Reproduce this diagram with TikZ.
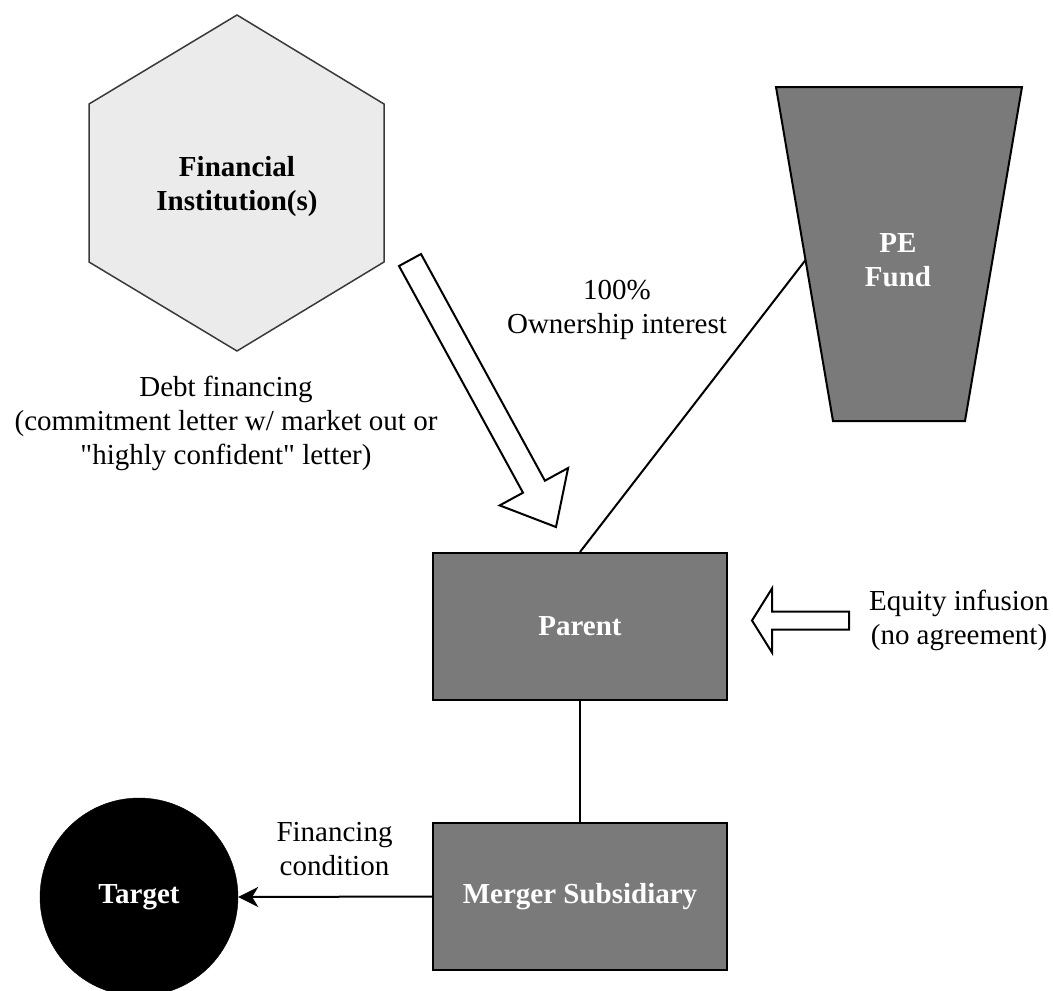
\documentclass[tikz,border=0pt]{standalone}
\usepackage{fontspec}
\setmainfont{Liberation Serif}[Ligatures=TeXOff]
\usetikzlibrary{arrows.meta,calc}
\definecolor{boxgray}{HTML}{7A7A7A}
\definecolor{hexfill}{HTML}{EBEBEB}
\definecolor{hexline}{HTML}{3A3A3A}

\begin{document}
\begin{tikzpicture}[x=1pt,y=-1pt,
  lbl/.style={font=\fontsize{29}{34}\selectfont, align=center, inner sep=0pt},
  boldlbl/.style={font=\fontsize{29}{34}\selectfont\bfseries, align=center, inner sep=0pt},
  entity/.style={draw=black, line width=2pt, fill=boxgray, text=white,
    font=\fontsize{29}{34}\selectfont\bfseries,
    minimum width=294pt, minimum height=147pt, inner sep=0pt},
  link/.style={draw=black, line width=2pt},
  hollow/.style={draw=black, line width=2pt, fill=white, line join=miter}
]
\useasboundingbox (0,0) rectangle (1053,991);

% lender: hexagon
\draw[fill=hexfill, draw=hexline, line width=1.5pt]
  (237,15) -- (384,104) -- (384,262) -- (237,351) -- (89,262) -- (89,104) -- cycle;
\node[boldlbl] (fin) at (237,187) {Financial\\Institution(s)};

% sponsor fund: inverted trapezoid
\coordinate (petl) at (776,87);
\coordinate (petr) at (1022,87);
\coordinate (pebr) at (965,421);
\coordinate (pebl) at (833,421);
\draw[fill=boxgray, draw=black, line width=2pt] (petl) -- (petr) -- (pebr) -- (pebl) -- cycle;
\node[boldlbl, text=white] (pe) at (898,260) {PE\\Fund};
\coordinate (peattach) at ($(pebl)!0.482!(petl)$);

% entities
\node[entity] (parent) at (580,626.5) {Parent};
\node[entity] (merger) at (580,896.5) {Merger Subsidiary};
\node[circle, fill=black, draw=black, minimum size=198pt, inner sep=0pt, text=white,
  font=\fontsize{29}{34}\selectfont\bfseries] (target) at (139,897) {Target};

% connectors
\draw[link] (parent.north) -- (peattach);
\draw[link] (parent.south) -- (merger.north);
\draw[link, -{Stealth[length=20pt,width=20pt,inset=6pt]}] (merger.west) -- (target.east);

% debt financing: large hollow arrow
\draw[hollow] (421.0,254.0) -- (544.9,480.7) -- (568.1,468.0) -- (556,527)
  -- (499.7,505.4) -- (523.0,492.7) -- (399.0,266.0) -- cycle;

% equity infusion: hollow arrow pointing left
\draw[hollow] (849,611.5) -- (772,611.5) -- (772,588.5) -- (752,620.5)
  -- (772,652.5) -- (772,629.5) -- (849,629.5) -- cycle;

% labels
\node[lbl] (debt) at (226,423) {Debt financing\\(commitment letter w/ market out or\\"highly confident" letter)};
\node[lbl] (own) at (617,309.5) {100\%\\Ownership interest};
\node[lbl] (fincond) at (334.5,849.5) {Financing\\condition};
\node[lbl] (equity) at (959,620.5) {Equity infusion\\(no agreement)};
\end{tikzpicture}
\end{document}
